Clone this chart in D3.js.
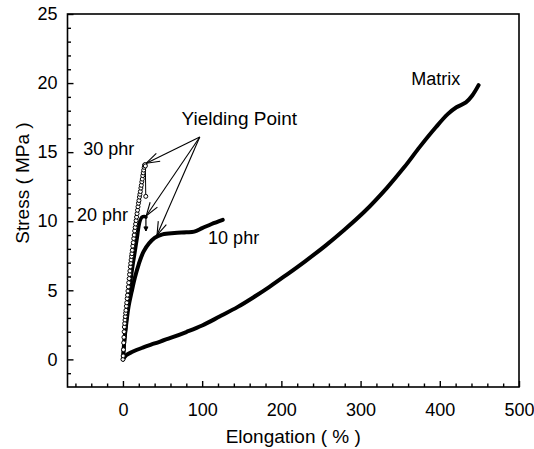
<!DOCTYPE html>
<html>
<head>
<meta charset="utf-8">
<script src="https://cdn.jsdelivr.net/npm/d3@7"></script>
<style>
  body { margin: 0; background: #fff; }
  text { font-family: "Liberation Sans", Arial, sans-serif; fill: #000; }
</style>
</head>
<body>
<div id="viz"></div>
<script>
const width = 534;
const height = 449;
const margin = {top: 14, right: 15, bottom: 62, left: 67.5};

// Data (strain in %, stress in MPa)
const matrixStrain = [0, 4, 12, 25, 40, 60, 80, 100, 122, 145, 165, 185, 206, 230, 255, 280, 305, 333, 355, 375, 395, 410, 421, 433, 441, 449];
const matrixStress = [0, 0.3, 0.55, 0.85, 1.15, 1.55, 1.98, 2.45, 3.1, 3.8, 4.5, 5.25, 6.1, 7.1, 8.2, 9.4, 10.7, 12.4, 13.9, 15.4, 16.8, 17.75, 18.25, 18.6, 19.1, 19.85];

const phr10Strain = [0, 2, 4, 7, 11, 15, 20, 26, 33, 40, 50, 65, 80, 90, 100, 112, 126];
const phr10Stress = [0, 1.5, 2.5, 3.8, 4.9, 5.9, 6.9, 7.8, 8.4, 8.8, 9.05, 9.15, 9.2, 9.25, 9.5, 9.8, 10.1];

const phr20Strain = [0, 3, 6, 9, 12, 15, 18, 20, 22, 24, 27, 29];
const phr20Stress = [0, 2, 3.8, 5.3, 6.6, 7.7, 8.8, 9.6, 10.1, 10.3, 10.35, 10.3];
const phr20DropStrain = [29, 29];
const phr20DropStress = [10.3, 9.3];

const phr30Strain = [0, 0.3, 0.6, 0.9, 1.2, 1.5, 1.8, 2.2, 2.6, 3.0, 3.4, 3.8, 4.3, 4.8, 5.3, 5.8, 6.3, 6.8, 7.3, 7.8, 8.3, 8.8, 9.3, 9.8, 10.3, 10.8, 11.3, 11.8, 12.4, 13.0, 13.6, 14.2, 14.8, 15.4, 16.0, 16.6, 17.2, 17.8, 18.4, 19.0, 19.6, 20.2, 20.8, 21.4, 22.0, 22.6, 23.2, 23.8, 24.4, 25.0, 25.6, 26.2, 26.8, 27.3, 27.8, 28.3, 28.8];
const phr30Stress = [0, 0.25, 0.7, 1.2, 1.6, 2.0, 2.35, 2.6, 2.85, 3.1, 3.35, 3.55, 3.85, 4.1, 4.4, 4.65, 4.95, 5.25, 5.55, 5.85, 6.15, 6.4, 6.7, 6.95, 7.2, 7.45, 7.65, 7.9, 8.2, 8.45, 8.75, 9.0, 9.3, 9.55, 9.8, 10.05, 10.3, 10.55, 10.8, 11.05, 11.3, 11.5, 11.75, 11.95, 12.15, 12.4, 12.6, 12.85, 13.05, 13.3, 13.5, 13.7, 13.9, 14.05, 14.1, 14.0, 11.8];

const xTicks = [0, 100, 200, 300, 400, 500];
const yTicks = [0, 5, 10, 15, 20, 25];

// annotation anchors (data units)
const yieldApex = {x: 97, y: 16.1};
const yieldTipsX = [29.5, 29.5, 43];
const yieldTipsY = [14.2, 10.4, 9.0];

const labelText = ['30 phr', '20 phr', '10 phr', 'Matrix', 'Yielding Point'];
const labelX = [-50, -58, 107.5, 364, 74];
const labelY = [14.8, 10.0, 8.35, 19.85, 16.95];
const labelSize = [18, 18, 18, 18, 19];

const zip = (xs, ys) => xs.map((x, i) => ({x: x, y: ys[i]}));

const svg = d3.select('#viz')
  .append('svg')
    .attr('width', width)
    .attr('height', height);

const xScale = d3.scaleLinear()
  .domain([-70, 500])
  .range([margin.left, width - margin.right]);

const yScale = d3.scaleLinear()
  .domain([-2, 25])
  .range([height - margin.bottom, margin.top]);

// frame
svg.append('rect')
  .attr('x', xScale(-70))
  .attr('y', yScale(25))
  .attr('width', xScale(500) - xScale(-70))
  .attr('height', yScale(-2) - yScale(25))
  .attr('fill', 'none')
  .attr('stroke', '#000')
  .attr('stroke-width', 1.6);

// bottom axis, ticks pointing inward
const xMinor = d3.range(-60, 500, 20).filter(d => d % 100 !== 0);
svg.append('g')
    .attr('transform', `translate(0, ${yScale(-2)})`)
    .call(d3.axisBottom(xScale).tickValues(xMinor).tickSize(-3.5).tickFormat(''))
    .call(g => g.select('.domain').remove());
svg.append('g')
    .attr('transform', `translate(0, ${yScale(-2)})`)
    .call(d3.axisBottom(xScale).tickValues(xTicks).tickSize(-6).tickPadding(16))
    .call(g => g.select('.domain').remove())
    .call(g => g.selectAll('text').attr('font-size', 18).style('font-family', '"Liberation Sans", Arial, sans-serif'));

// left axis
const yMinor = d3.range(-1, 25, 1).filter(d => d % 5 !== 0);
svg.append('g')
    .attr('transform', `translate(${xScale(-70)}, 0)`)
    .call(d3.axisLeft(yScale).tickValues(yMinor).tickSize(-3.5).tickFormat(''))
    .call(g => g.select('.domain').remove());
svg.append('g')
    .attr('transform', `translate(${xScale(-70)}, 0)`)
    .call(d3.axisLeft(yScale).tickValues(yTicks).tickSize(-6).tickPadding(10))
    .call(g => g.select('.domain').remove())
    .call(g => g.selectAll('text').attr('font-size', 18).style('font-family', '"Liberation Sans", Arial, sans-serif'));

svg.selectAll('.tick line').attr('stroke', '#000').attr('stroke-width', 1.4);

// axis titles
svg.append('text')
    .attr('x', (xScale(-70) + xScale(500)) / 2)
    .attr('y', 443)
    .attr('text-anchor', 'middle')
    .attr('font-size', 19)
    .text('Elongation ( % )');

svg.append('text')
    .attr('transform', `translate(29, 183) rotate(-90)`)
    .attr('text-anchor', 'middle')
    .attr('font-size', 19)
    .text('Stress ( MPa )');

const line = d3.line()
  .x(d => xScale(d.x))
  .y(d => yScale(d.y))
  .curve(d3.curveCatmullRom);

const plot = svg.append('g');

plot.append('path')
    .attr('d', line(zip(matrixStrain, matrixStress)))
    .attr('fill', 'none')
    .attr('stroke', '#000')
    .attr('stroke-width', 4)
    .attr('stroke-linecap', 'round');

plot.append('path')
    .attr('d', line(zip(phr10Strain, phr10Stress)))
    .attr('fill', 'none')
    .attr('stroke', '#000')
    .attr('stroke-width', 4)
    .attr('stroke-linecap', 'round');

plot.append('path')
    .attr('d', line(zip(phr20Strain, phr20Stress)))
    .attr('fill', 'none')
    .attr('stroke', '#000')
    .attr('stroke-width', 3.5)
    .attr('stroke-linecap', 'round');

plot.append('path')
    .attr('d', d3.line().x(d => xScale(d.x)).y(d => yScale(d.y))(zip(phr20DropStrain, phr20DropStress)))
    .attr('fill', 'none')
    .attr('stroke', '#000')
    .attr('stroke-width', 1.2);

// small head at the bottom of the 20 phr drop
const dropEnd = zip(phr20DropStrain, phr20DropStress)[1];
plot.append('path')
    .attr('d', `M${xScale(dropEnd.x) - 2},${yScale(dropEnd.y) - 4}L${xScale(dropEnd.x)},${yScale(dropEnd.y)}L${xScale(dropEnd.x) + 2},${yScale(dropEnd.y) - 4}Z`)
    .attr('fill', '#000')
    .attr('stroke', '#000')
    .attr('stroke-width', 1);

const pts30 = zip(phr30Strain, phr30Stress);
plot.append('path')
    .attr('d', d3.line().x(d => xScale(d.x)).y(d => yScale(d.y))(pts30))
    .attr('fill', 'none')
    .attr('stroke', '#000')
    .attr('stroke-width', 1);

plot.selectAll('circle').data(pts30).join('circle')
    .attr('cx', d => xScale(d.x))
    .attr('cy', d => yScale(d.y))
    .attr('r', 2)
    .attr('fill', '#fff')
    .attr('stroke', '#000')
    .attr('stroke-width', 1);

// Yielding Point arrows
const ax = xScale(yieldApex.x), ay = yScale(yieldApex.y);
const arrows = svg.append('g');
yieldTipsX.forEach((tx, i) => {
  const px = xScale(tx), py = yScale(yieldTipsY[i]);
  const ang = Math.atan2(ay - py, ax - px);
  const hl = 14, spread = 0.32;
  arrows.append('line')
      .attr('x1', ax).attr('y1', ay).attr('x2', px).attr('y2', py)
      .attr('stroke', '#000').attr('stroke-width', 1.1);
  [-spread, spread].forEach(s => {
    arrows.append('line')
        .attr('x1', px).attr('y1', py)
        .attr('x2', px + hl * Math.cos(ang + s))
        .attr('y2', py + hl * Math.sin(ang + s))
        .attr('stroke', '#000').attr('stroke-width', 1.1);
  });
});

// labels
svg.selectAll('.lbl').data(labelText).join('text')
    .attr('class', 'lbl')
    .attr('x', (d, i) => xScale(labelX[i]))
    .attr('y', (d, i) => yScale(labelY[i]))
    .attr('font-size', (d, i) => labelSize[i])
    .text(d => d);
</script>
</body>
</html>
